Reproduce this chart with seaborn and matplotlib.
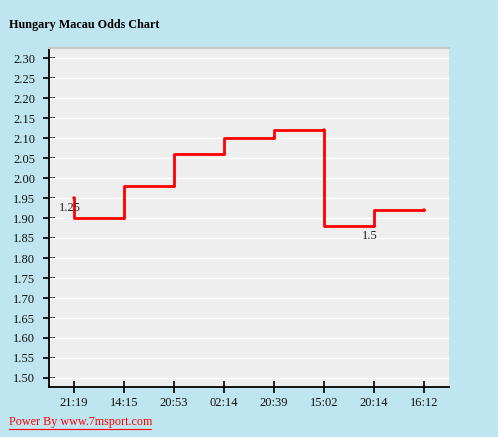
import matplotlib
matplotlib.use("Agg")
import matplotlib.pyplot as plt
import seaborn as sns
import pandas as pd
import numpy as np

# Data
times = ["21:19", "14:15", "20:53", "02:14", "20:39", "15:02", "20:14", "16:12"]
odds_before = [1.95, 1.90, 1.98, 2.06, 2.10, 2.12, 1.88, 1.92]
odds_after = [1.90, 1.98, 2.06, 2.10, 2.12, 1.88, 1.92, 1.92]
handicap_labels = {0: "1.25", 6: "1.5"}
y_ticks = [1.50, 1.55, 1.60, 1.65, 1.70, 1.75, 1.80, 1.85, 1.90, 1.95,
           2.00, 2.05, 2.10, 2.15, 2.20, 2.25, 2.30]

# Build step path from the data
px, py = [], []
for i in range(len(times)):
    px += [i, i]
    py += [odds_before[i], odds_after[i]]
    if i + 1 < len(times):
        px.append(i + 1)
        py.append(odds_after[i])
path = pd.DataFrame({"x": px, "y": py})
dots = pd.DataFrame({"x": range(len(times)), "y": odds_before})

sns.set_theme(style="ticks")
plt.rcParams["font.family"] = ["Liberation Serif", "DejaVu Serif"]

bg = "#BFE6F0"
fig = plt.figure(figsize=(4.98, 4.37), dpi=100, facecolor=bg)
ax = fig.add_axes([49 / 498, 1 - 387 / 437, 400 / 498, 339 / 437])
ax.set_facecolor("#EEEEEE")

for t in y_ticks:
    ax.axhline(t, color="white", lw=1.0, zorder=1)

sns.lineplot(data=path, x="x", y="y", sort=False, estimator=None,
             color="#FF0000", lw=2.0, ax=ax, zorder=3)
sns.scatterplot(data=dots, x="x", y="y", color="#FF0000", s=6,
                edgecolor="none", ax=ax, zorder=4)

for i, lab in handicap_labels.items():
    ax.annotate(lab, (i, odds_before[i]), xytext=(-3, -7),
                textcoords="offset points", ha="center", va="center",
                fontsize=9, color="#222222", zorder=5)

ax.set_xlim(-0.5, len(times) - 0.5)
ax.set_ylim(1.4775, 2.325)
ax.set_xticks(range(len(times)))
ax.set_xticklabels(times)
ax.set_yticks(y_ticks)
ax.set_yticklabels([f"{v:.2f}" for v in y_ticks])
ax.set_xlabel("")
ax.set_ylabel("")
ax.tick_params(axis="both", direction="inout", length=8, width=1.2,
               color="black", labelsize=9, labelcolor="#111111",
               bottom=True, left=True, top=False, right=False)
ax.tick_params(axis="y", pad=6)
ax.tick_params(axis="x", pad=3)

for side in ["left", "bottom"]:
    ax.spines[side].set_visible(True)
    ax.spines[side].set_color("black")
    ax.spines[side].set_linewidth(1.3)
ax.spines["right"].set_visible(False)
ax.spines["top"].set_visible(True)
ax.spines["top"].set_color("#C8C8C8")
ax.spines["top"].set_linewidth(1.5)

fig.text(9 / 498, 1 - 25 / 437, "Hungary Macau Odds Chart", fontsize=8.7,
         fontweight="bold", color="black", ha="left", va="center")
fig.text(9 / 498, 1 - 422 / 437, "Power By www.7msport.com", fontsize=8.7,
         color="#FF0000", ha="left", va="center")
fig.add_artist(plt.Line2D([9 / 498, 151 / 498], [1 - 428.5 / 437, 1 - 428.5 / 437],
                          color="#FF0000", lw=0.8))

fig.savefig("out.png", dpi=100, facecolor=bg)
